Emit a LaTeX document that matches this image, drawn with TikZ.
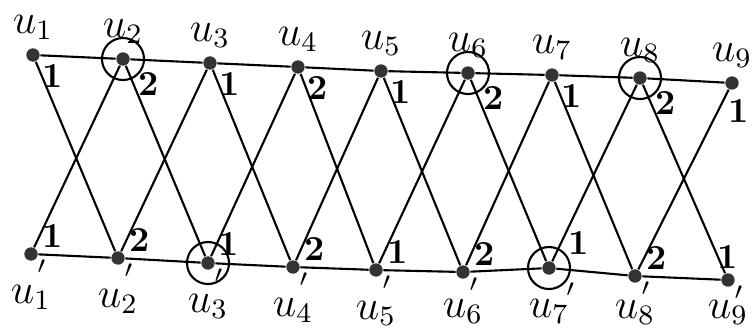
\documentclass[tikz,border=0pt]{standalone}
\begin{document}
\begin{tikzpicture}[
  x=0.01cm, y=-0.01cm,
  dot/.style={
    circle,
    fill=black!80,
    inner sep=0pt,
    minimum size=3.8pt
  },
  vname/.style={font=\large, inner sep=2pt},
  num/.style={inner sep=1pt, font=\bfseries},
  tick/.style={inner sep=0pt, font=\scriptsize},
  ring/.style={draw, line width=0.6pt},
  edge/.style={draw, line width=0.6pt}
]
\useasboundingbox (0,0) rectangle (752,332);

% top row
\node[dot, label={[vname]above:$u_1$}, label={[num]-40:1}] (t1) at (33,55) {};
\node[dot, label={[vname]above:$u_2$}, label={[num,label distance=2pt]-40:2}] (t2) at (123,59) {};
\node[dot, label={[vname]above:$u_3$}, label={[num]-40:1}] (t3) at (210,63) {};
\node[dot, label={[vname]above:$u_4$}, label={[num]-40:2}] (t4) at (298,67) {};
\node[dot, label={[vname]above:$u_5$}, label={[num]-40:1}] (t5) at (381,71) {};
\node[dot, label={[vname]above:$u_6$}, label={[num,label distance=2pt]-40:2}] (t6) at (468,73) {};
\node[dot, label={[vname]above:$u_7$}, label={[num]-40:1}] (t7) at (552,75) {};
\node[dot, label={[vname]above:$u_8$}, label={[num,label distance=2pt]-40:2}] (t8) at (640,78) {};
\node[dot, label={[vname]above:$u_9$}, label={[num,xshift=1.8pt,label distance=1.5pt]below:1}] (t9) at (732,83) {};

% bottom row
\node[dot, label={[vname,label distance=4.5pt]below:$u_1$}, label={[num]20:1}, label={[tick]-40:$\prime$}] (b1) at (31,254) {};
\node[dot, label={[vname,label distance=4.5pt]below:$u_2$}, label={[num]20:2}, label={[tick]-40:$\prime$}] (b2) at (118,258) {};
\node[dot, label={[vname,label distance=4.5pt]below:$u_3$}, label={[num]30:1}, label={[tick]-40:$\prime$}] (b3) at (208,263) {};
\node[dot, label={[vname,label distance=4.5pt]below:$u_4$}, label={[num]20:2}, label={[tick]-40:$\prime$}] (b4) at (293,267) {};
\node[dot, label={[vname,label distance=4.5pt]below:$u_5$}, label={[num]20:1}, label={[tick]-40:$\prime$}] (b5) at (376,270) {};
\node[dot, label={[vname,label distance=3.5pt]below:$u_6$}, label={[num]20:2}, label={[tick]-40:$\prime$}] (b6) at (463,272) {};
\node[dot, label={[vname,label distance=4.5pt]below:$u_7$}, label={[num,label distance=3pt]30:1}, label={[tick,label distance=4pt]-40:$\prime$}] (b7) at (549,268) {};
\node[dot, label={[vname,label distance=2.5pt]below:$u_8$}, label={[num]20:2}, label={[tick]-40:$\prime$}] (b8) at (635,276) {};
\node[dot, label={[vname,label distance=1.5pt]below:$u_9$}, label={[num]above:1}, label={[tick]-40:$\prime$}] (b9) at (728,280) {};

% rings
\draw[ring] (t2) circle[radius=0.21cm];
\draw[ring] (t6) circle[radius=0.21cm];
\draw[ring] (t8) circle[radius=0.21cm];
\draw[ring] (b3) circle[radius=0.21cm];
\draw[ring] (b7) circle[radius=0.21cm];

% rows
\draw[edge] (t1) -- (t2) -- (t3) -- (t4) -- (t5) -- (t6) -- (t7) -- (t8) -- (t9);
\draw[edge] (b1) -- (b2) -- (b3) -- (b4) -- (b5) -- (b6) -- (b7) -- (b8) -- (b9);

% crossings
\draw[edge] (t1) -- (b2);
\draw[edge] (t2) -- (b1);
\draw[edge] (t2) -- (b3);
\draw[edge] (t3) -- (b2);
\draw[edge] (t3) -- (b4);
\draw[edge] (t4) -- (b3);
\draw[edge] (t4) -- (b5);
\draw[edge] (t5) -- (b4);
\draw[edge] (t5) -- (b6);
\draw[edge] (t6) -- (b5);
\draw[edge] (t6) -- (b7);
\draw[edge] (t7) -- (b6);
\draw[edge] (t7) -- (b8);
\draw[edge] (t8) -- (b7);
\draw[edge] (t8) -- (b9);
\draw[edge] (t9) -- (b8);
\end{tikzpicture}
\end{document}
